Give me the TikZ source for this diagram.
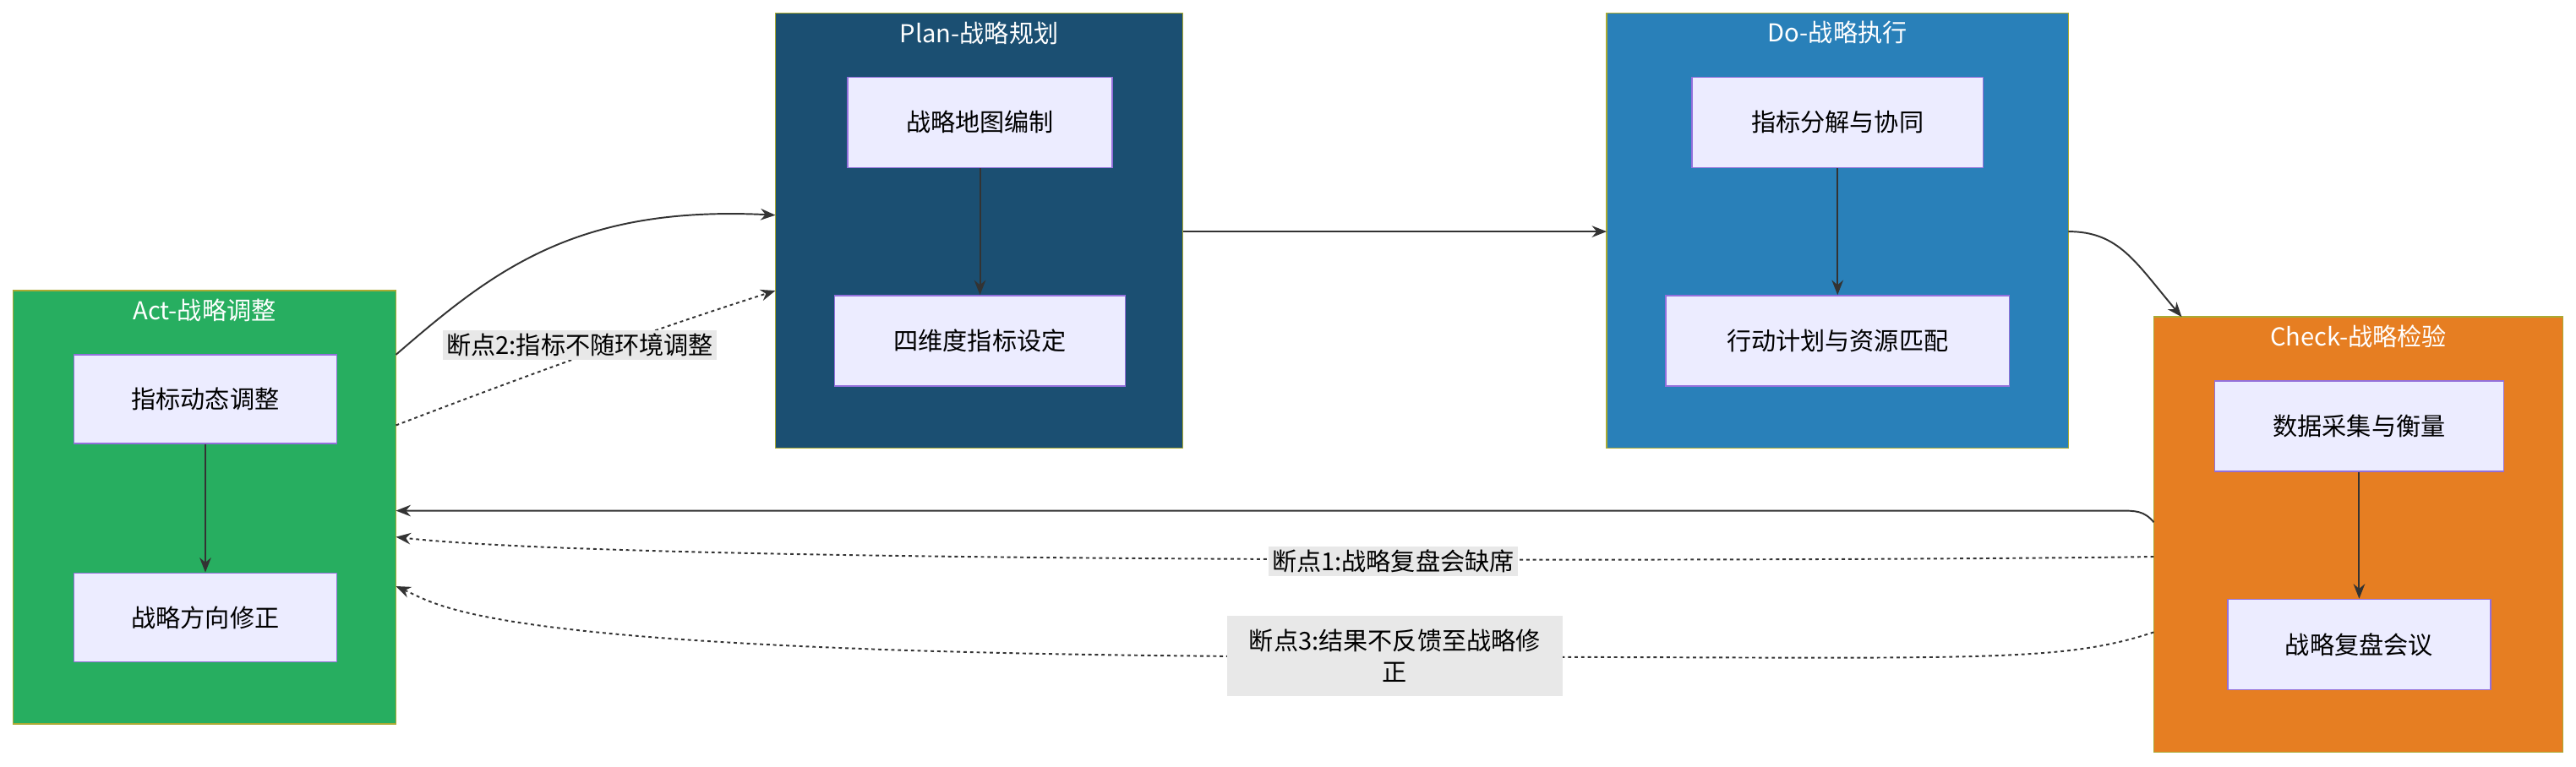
\documentclass[tikz,border=0pt]{standalone}
\usepackage{fontspec}
\setmainfont{Noto Sans CJK SC}
\usetikzlibrary{arrows.meta}
\definecolor{nodefill}{HTML}{ECECFF}
\definecolor{nodeline}{HTML}{9370DB}
\definecolor{sgline}{HTML}{AAAA33}
\definecolor{actc}{HTML}{27AE60}
\definecolor{planc}{HTML}{1B4F72}
\definecolor{doc}{HTML}{2980B9}
\definecolor{chkc}{HTML}{E67E22}
\definecolor{lblbg}{HTML}{E8E8E8}
\definecolor{edgec}{HTML}{333333}
\begin{document}
\begin{tikzpicture}[x=1pt,y=-1pt,
  font=\fontsize{15}{19}\selectfont,
  sg/.style={draw=sgline,line width=0.8pt},
  sgt/.style={text=white,anchor=center},
  nd/.style={draw=nodeline,fill=nodefill,line width=0.8pt,text=black},
  ed/.style={draw=edgec,line width=1pt,-{Stealth[length=9pt,width=7pt]}},
  dt/.style={ed,dash pattern=on 2pt off 2pt},
  lb/.style={fill=lblbg,text=black,inner sep=2pt,align=center}]
\useasboundingbox (0,0) rectangle (1568,467);
% subgraphs
\filldraw[sg,fill=actc] (8,177) rectangle (241,441);
\node[sgt] (tact) at (124.5,189) {Act-战略调整};
\filldraw[sg,fill=planc] (472,8) rectangle (720,273);
\node[sgt] (tplan) at (596,20) {Plan-战略规划};
\filldraw[sg,fill=doc] (978,8) rectangle (1259,273);
\node[sgt] (tdo) at (1118.5,20) {Do-战略执行};
\filldraw[sg,fill=chkc] (1311,193) rectangle (1560,458);
\node[sgt] (tchk) at (1435.5,205) {Check-战略检验};
\coordinate (act) at (241,177);
% nodes
\node[nd,minimum width=160pt,minimum height=54pt] (a1) at (125,243) {指标动态调整};
\node[nd,minimum width=160pt,minimum height=54pt] (a2) at (125,376) {战略方向修正};
\node[nd,minimum width=161pt,minimum height=55pt] (p1) at (596.5,74.5) {战略地图编制};
\node[nd,minimum width=177pt,minimum height=55pt] (p2) at (596.5,207.5) {四维度指标设定};
\node[nd,minimum width=177pt,minimum height=55pt] (d1) at (1118.5,74.5) {指标分解与协同};
\node[nd,minimum width=209pt,minimum height=55pt] (d2) at (1118.5,207.5) {行动计划与资源匹配};
\node[nd,minimum width=176pt,minimum height=55pt] (c1) at (1436,259.5) {数据采集与衡量};
\node[nd,minimum width=160pt,minimum height=55pt] (c2) at (1436,392.5) {战略复盘会议};
\draw[ed] (a1) -- (a2);
\draw[ed] (p1) -- (p2);
\draw[ed] (d1) -- (d2);
\draw[ed] (c1) -- (c2);
% coordinates on subgraph borders
\coordinate (aR1) at (241,216);
\coordinate (aR2) at (241,259);
\coordinate (aR3) at (241,311);
\coordinate (aR4) at (241,327);
\coordinate (aR5) at (241,357);
\coordinate (pL1) at (472,131);
\coordinate (pL2) at (472,177);
\coordinate (pR) at (720,141);
\coordinate (dL) at (978,141);
\coordinate (dR) at (1259,141);
\coordinate (cT) at (1328,193);
\coordinate (cL1) at (1311,318);
\coordinate (cL2) at (1311,339);
\coordinate (cL3) at (1311,385);
\draw[ed] (aR1) .. controls (300,165) and (350,125) .. (pL1);
\draw[dt] (aR2) .. controls (330,225) and (400,200) .. (pL2);
\node[lb] (l2) at (353,210) {断点2:指标不随环境调整};
\draw[ed] (pR) -- (dL);
\draw[ed] (dR) .. controls (1290,141) and (1300,160) .. (cT);
\draw[ed] (cL1) .. controls (1305,311) and (1300,311) .. (1290,311) -- (aR3);
\draw[dt] (cL2) .. controls (1200,341) and (400,345) .. (aR4);
\node[lb] (l1) at (848,342) {断点1:战略复盘会缺席};
\draw[dt] (cL3) .. controls (1250,405) and (1200,400) .. (848,400) .. controls (300,400) and (270,370) .. (aR5);
\node[lb,minimum width=204pt,minimum height=49pt] (l3) at (849,399.5) {断点3:结果不反馈至战略修\\正};
\end{tikzpicture}
\end{document}
